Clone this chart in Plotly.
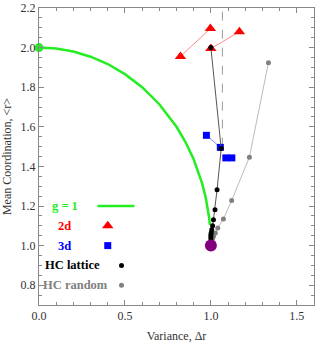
import plotly.graph_objects as go

# g = 1 curve
g1_x = [0.0, 0.1, 0.2, 0.3, 0.4, 0.5, 0.6, 0.7, 0.8, 0.85, 0.9, 0.93, 0.95, 0.97, 0.98, 0.99, 0.994]
g1_y = [2.0, 1.995, 1.980, 1.954, 1.917, 1.866, 1.800, 1.714, 1.600, 1.527, 1.436, 1.368, 1.312, 1.243, 1.199, 1.141, 1.105]

# 2d (red triangles) and their connecting segments
d2_x = [0.823, 0.997, 1.166, 1.0]
d2_y = [1.955, 2.096, 2.08, 1.995]
d2_seg_a_x = [0.823, 0.997]
d2_seg_a_y = [1.955, 2.096]
d2_seg_b_x = [1.0, 1.166]
d2_seg_b_y = [1.995, 2.08]

# 3d (blue squares)
d3_x = [0.974, 1.055, 1.087, 1.122]
d3_y = [1.557, 1.496, 1.443, 1.443]
d3_seg_x = [0.974, 1.055]
d3_seg_y = [1.557, 1.496]

# HC lattice (black)
hcl_x = [1.0, 1.06, 1.036, 1.024, 1.015, 1.01, 1.005, 1.002, 1.0, 1.0, 1.0]
hcl_y = [2.0, 1.49, 1.282, 1.181, 1.131, 1.10, 1.08, 1.065, 1.055, 1.045, 1.035]

# HC random (gray)
hcr_x = [1.335, 1.224, 1.121, 1.073, 1.04, 1.026, 1.016, 1.01, 1.005]
hcr_y = [1.924, 1.446, 1.228, 1.134, 1.089, 1.064, 1.048, 1.035, 1.025]

# dashed reference line
dash_x = [1.067, 1.067]
dash_y = [1.5, 2.2]

# endpoints
green_pt = (0.0, 2.0)
purple_pt = (1.0, 1.0)

# legend entries
leg_labels = ["g = 1", "2d", "3d", "HC lattice", "HC random"]
leg_colors = ["#22ee22", "#ff0000", "#0000ff", "#000000", "#808080"]
leg_y = [1.2, 1.1, 1.0, 0.9, 0.8]
leg_text_x = [0.15, 0.15, 0.15, 0.195, 0.215]

fig = go.Figure()

fig.add_trace(go.Scatter(x=dash_x, y=dash_y, mode="lines",
                         line=dict(color="#999999", width=1, dash="dash")))
fig.add_trace(go.Scatter(x=hcr_x, y=hcr_y, mode="lines+markers",
                         line=dict(color="#bbbbbb", width=1),
                         marker=dict(color="#808080", size=5)))
fig.add_trace(go.Scatter(x=d2_seg_a_x, y=d2_seg_a_y, mode="lines",
                         line=dict(color="#ff8888", width=1)))
fig.add_trace(go.Scatter(x=d2_seg_b_x, y=d2_seg_b_y, mode="lines",
                         line=dict(color="#ff8888", width=1)))
fig.add_trace(go.Scatter(x=d3_seg_x, y=d3_seg_y, mode="lines",
                         line=dict(color="#8888ff", width=1)))
fig.add_trace(go.Scatter(x=d2_x, y=d2_y, mode="markers",
                         marker=dict(color="#ff0000", size=10, symbol="triangle-up"),
                         cliponaxis=False))
fig.add_trace(go.Scatter(x=d3_x, y=d3_y, mode="markers",
                         marker=dict(color="#0000ff", size=7, symbol="square"),
                         cliponaxis=False))
fig.add_trace(go.Scatter(x=g1_x, y=g1_y, mode="lines",
                         line=dict(color="#22ee22", width=2.5)))
fig.add_trace(go.Scatter(x=hcl_x, y=hcl_y, mode="lines+markers",
                         line=dict(color="#555555", width=1),
                         marker=dict(color="#000000", size=5)))
fig.add_trace(go.Scatter(x=[green_pt[0]], y=[green_pt[1]], mode="markers",
                         marker=dict(color="#22ee22", size=9), cliponaxis=False))
fig.add_trace(go.Scatter(x=[purple_pt[0]], y=[purple_pt[1]], mode="markers",
                         marker=dict(color="#800080", size=12), cliponaxis=False))

# legend marks
fig.add_trace(go.Scatter(x=[0.34, 0.555], y=[leg_y[0], leg_y[0]], mode="lines",
                         line=dict(color=leg_colors[0], width=2.5)))
fig.add_trace(go.Scatter(x=[0.4], y=[leg_y[1]], mode="markers",
                         marker=dict(color=leg_colors[1], size=10, symbol="triangle-up")))
fig.add_trace(go.Scatter(x=[0.4], y=[leg_y[2]], mode="markers",
                         marker=dict(color=leg_colors[2], size=7, symbol="square")))
fig.add_trace(go.Scatter(x=[0.48], y=[leg_y[3]], mode="markers",
                         marker=dict(color=leg_colors[3], size=5)))
fig.add_trace(go.Scatter(x=[0.48], y=[leg_y[4]], mode="markers",
                         marker=dict(color=leg_colors[4], size=5)))

for lab, col, ly, lx in zip(leg_labels, leg_colors, leg_y, leg_text_x):
    fig.add_annotation(x=lx, y=ly, text="<b>%s</b>" % lab, showarrow=False,
                       font=dict(family="Liberation Serif", size=12.5, color=col),
                       xanchor="center", yanchor="middle")

axis_common = dict(showgrid=False, zeroline=False, showline=True, linecolor="#888888",
                   linewidth=1, mirror="allticks", ticks="inside", ticklen=5,
                   tickcolor="#888888", tickwidth=1,
                   tickfont=dict(family="Liberation Serif", size=12, color="#333333"))

fig.update_layout(
    width=315, height=343,
    margin=dict(l=39, r=1, t=8, b=38),
    plot_bgcolor="white", paper_bgcolor="white",
    showlegend=False,
    xaxis=dict(range=[0, 1.6], dtick=0.5, tickformat=".1f",
               minor=dict(dtick=0.1, ticks="inside", ticklen=3, tickcolor="#888888"),
               title=dict(text="Variance, Δr", standoff=10,
                          font=dict(family="Liberation Serif", size=12, color="#333333")),
               **axis_common),
    yaxis=dict(range=[0.7, 2.2], dtick=0.2, tick0=0.8, tickformat=".1f",
               minor=dict(dtick=0.05, ticks="inside", ticklen=3, tickcolor="#888888"),
               title=dict(text="Mean Coordination, &lt;r&gt;", standoff=6,
                          font=dict(family="Liberation Serif", size=12, color="#333333")),
               **axis_common),
)

fig.write_html("out.html", config={"displayModeBar": False},
               post_script="document.body.style.margin='0';")
